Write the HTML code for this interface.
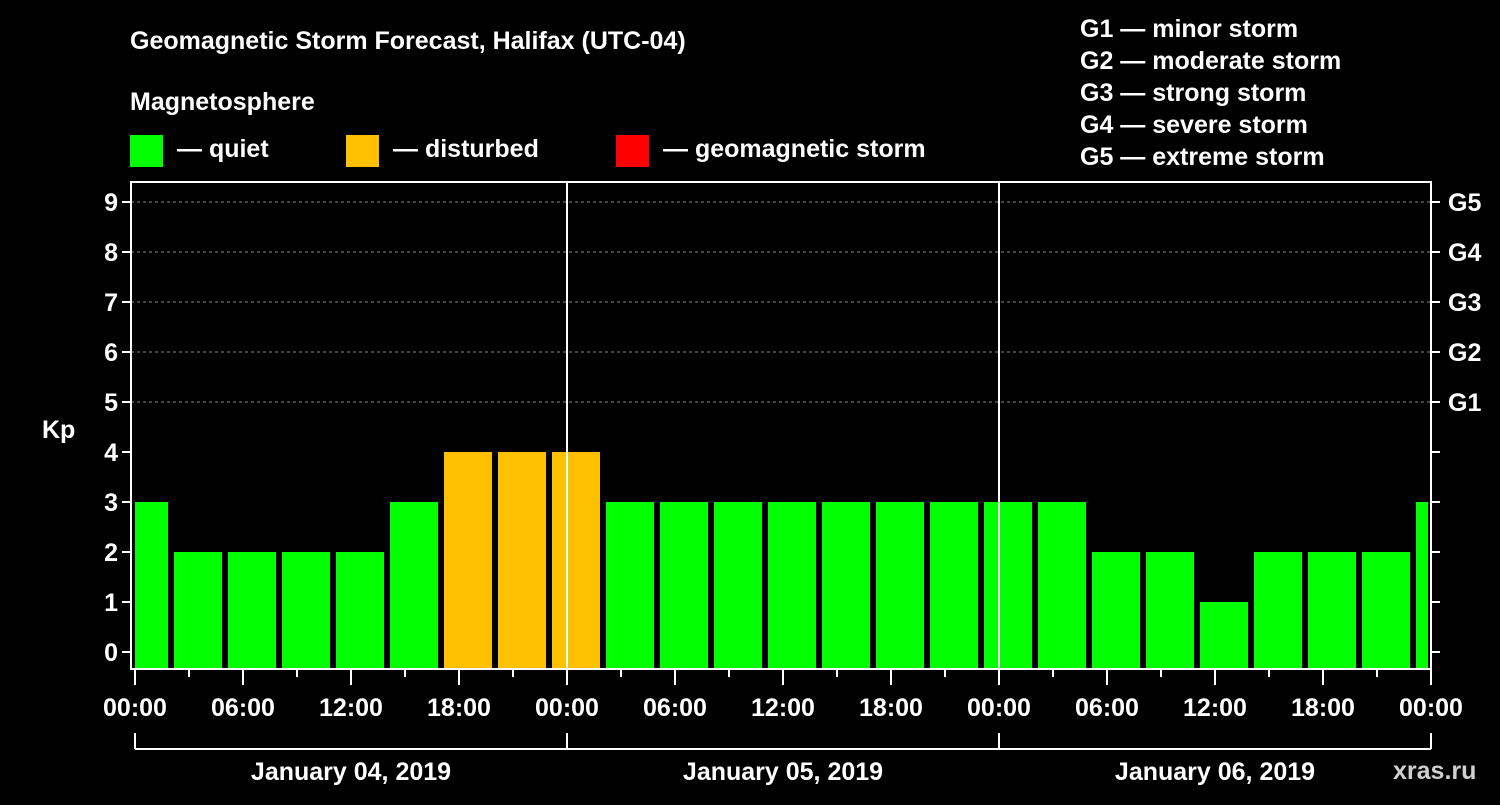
<!DOCTYPE html>
<html><head><meta charset="utf-8"><style>
body{margin:0;background:#000;width:1500px;height:800px;overflow:hidden}
text{font-family:"Liberation Sans",sans-serif;font-weight:bold;fill:#fff}
</style></head><body>
<svg id="c" width="1500" height="800">
<text x="130" y="49" font-size="25">Geomagnetic Storm Forecast, Halifax (UTC-04)</text>
<text x="130" y="110" font-size="25">Magnetosphere</text>
<g><rect x="130" y="135" width="33" height="32" fill="#00ff00"/><text x="177" y="157" font-size="25">— quiet</text></g>
<g><rect x="346" y="135" width="33" height="32" fill="#ffc000"/><text x="393" y="157" font-size="25">— disturbed</text></g>
<g><rect x="616" y="135" width="33" height="32" fill="#ff0000"/><text x="663" y="157" font-size="25">— geomagnetic storm</text></g>
<g font-size="25">
<text x="1080" y="37">G1 — minor storm</text><text x="1080" y="69">G2 — moderate storm</text><text x="1080" y="101">G3 — strong storm</text><text x="1080" y="133">G4 — severe storm</text><text x="1080" y="165">G5 — extreme storm</text>
</g>
<text x="42" y="438" font-size="25">Kp</text>
<text x="1393" y="779" font-size="25" fill="#ccc" style="fill:#cfcfcf">xras.ru</text>
<g id="plot"></g>
</svg>
<script>
const kpValues=[3,2,2,2,2,3,4,4,4,3,3,3,3,3,3,3,3,3,2,2,1,2,2,2,3];
const yTicks=[0,1,2,3,4,5,6,7,8,9];
const gLabels=["G1","G2","G3","G4","G5"];
const hourLabels=["00:00","06:00","12:00","18:00"];
const dayLabels=["January 04, 2019","January 05, 2019","January 06, 2019"];
const firstBinHour=-1;
const NS="http://www.w3.org/2000/svg";
const L=131,R=1431,T=182,B=669,x0=135,pxH=18;
const xs=h=>x0+h*pxH, ys=v=>652-50*v;
const g=document.getElementById('plot');
function mk(t,a,p){const e=document.createElementNS(NS,t);for(const k in a)e.setAttribute(k,a[k]);(p||g).appendChild(e);return e;}
yTicks.forEach(v=>{
 if(v>=5){const l=mk('line',{x1:L,x2:R,y1:ys(v),y2:ys(v),stroke:'#888','stroke-dasharray':'3,3'});
 
 }
 const t=mk('text',{x:118,y:ys(v)+9,'font-size':25,'text-anchor':'end'});t.textContent=v;
 
 
 mk('line',{x1:122,x2:L,y1:ys(v),y2:ys(v),stroke:'#fff','stroke-width':2});
 mk('line',{x1:R,x2:R+9,y1:ys(v),y2:ys(v),stroke:'#fff','stroke-width':2});
});
gLabels.forEach((s,i)=>{const t=mk('text',{x:1448,y:ys(5+i)+9,'font-size':25});t.textContent=s;
 
 });
kpValues.forEach((v,i)=>{
 let a=xs(firstBinHour+3*i)+3,b=xs(firstBinHour+3*i+3)-3;
 a=Math.max(a,L+4);b=Math.min(b,R-3);
 const col=v>=5?'#ff0000':v>=4?'#ffc000':'#00ff00';
 const r=mk('rect',{x:a,y:ys(v),width:b-a,height:B-ys(v),fill:col});
 
 
});
[1,2].forEach(d=>mk('line',{x1:xs(24*d),x2:xs(24*d),y1:T,y2:B,stroke:'#fff','stroke-width':2}));
const fr=mk('rect',{x:L,y:T,width:R-L,height:B-T,fill:'none',stroke:'#fff','stroke-width':2});


for(let h=0;h<=72;h+=3){const maj=h%6==0;mk('line',{x1:xs(h),x2:xs(h),y1:B,y2:B+(maj?16:8),stroke:'#fff','stroke-width':2});
 if(maj&&h%6==0){const t=mk('text',{x:xs(h),y:B+47,'font-size':25,'text-anchor':'middle'});t.textContent=hourLabels[(h/6)%4];
 
 }}
mk('line',{x1:xs(0),x2:xs(72),y1:749,y2:749,stroke:'#fff','stroke-width':2});
for(let d=0;d<=3;d++)mk('line',{x1:xs(24*d),x2:xs(24*d),y1:733,y2:749,stroke:'#fff','stroke-width':2});
dayLabels.forEach((s,i)=>{const t=mk('text',{x:xs(24*i+12),y:780,'font-size':25,'text-anchor':'middle'});t.textContent=s;
 
 });
</script>
</body></html>
